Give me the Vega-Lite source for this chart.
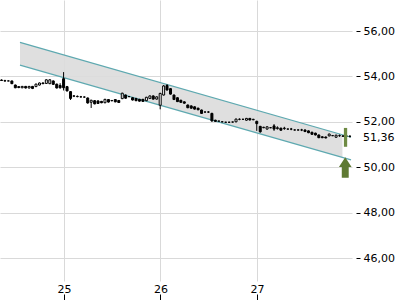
{
  "$schema": "https://vega.github.io/schema/vega-lite/v6.json",
  "width": 352,
  "height": 281,
  "autosize": {"type": "none"},
  "padding": {"left": 0, "top": 0, "right": 48, "bottom": 19},
  "background": "white",
  "config": {
    "view": {"stroke": null},
    "axis": {"labelFont": "DejaVu Sans", "labelFontSize": 11, "labelColor": "#000", "tickColor": "#000", "tickWidth": 1, "gridColor": "#d9d9d9", "gridWidth": 1, "domain": false}
  },
  "datasets": {
    "band": [
      {"t": 24.544, "lo": 54.50, "hi": 55.50},
      {"t": 27.886, "lo": 50.43, "hi": 51.43}
    ],
    "edges": [
      {"t1": 24.544, "p1": 55.50, "t2": 27.975, "p2": 51.32},
      {"t1": 24.544, "p1": 54.50, "t2": 27.975, "p2": 50.32}
    ],
    "candles": [
      {"t": 24.353, "o": 53.84, "h": 53.87, "l": 53.80, "c": 53.82},
      {"t": 24.388, "o": 53.81, "h": 53.85, "l": 53.77, "c": 53.80},
      {"t": 24.424, "o": 53.80, "h": 53.82, "l": 53.79, "c": 53.80},
      {"t": 24.460, "o": 53.80, "h": 53.81, "l": 53.66, "c": 53.68},
      {"t": 24.496, "o": 53.62, "h": 53.64, "l": 53.48, "c": 53.50},
      {"t": 24.531, "o": 53.55, "h": 53.57, "l": 53.48, "c": 53.51},
      {"t": 24.567, "o": 53.50, "h": 53.58, "l": 53.48, "c": 53.56},
      {"t": 24.603, "o": 53.56, "h": 53.58, "l": 53.47, "c": 53.49},
      {"t": 24.639, "o": 53.49, "h": 53.58, "l": 53.47, "c": 53.56},
      {"t": 24.674, "o": 53.56, "h": 53.58, "l": 53.44, "c": 53.47},
      {"t": 24.710, "o": 53.55, "h": 53.68, "l": 53.53, "c": 53.66},
      {"t": 24.746, "o": 53.62, "h": 53.73, "l": 53.60, "c": 53.71},
      {"t": 24.782, "o": 53.71, "h": 53.74, "l": 53.66, "c": 53.68},
      {"t": 24.817, "o": 53.69, "h": 53.87, "l": 53.67, "c": 53.85},
      {"t": 24.853, "o": 53.68, "h": 53.87, "l": 53.66, "c": 53.85},
      {"t": 24.889, "o": 53.80, "h": 53.82, "l": 53.63, "c": 53.65},
      {"t": 24.925, "o": 53.66, "h": 53.68, "l": 53.47, "c": 53.49},
      {"t": 24.960, "o": 53.60, "h": 53.70, "l": 53.46, "c": 53.50},
      {"t": 24.996, "o": 53.90, "h": 54.19, "l": 53.38, "c": 53.50},
      {"t": 25.032, "o": 53.55, "h": 53.58, "l": 53.34, "c": 53.36},
      {"t": 25.068, "o": 53.33, "h": 53.35, "l": 52.96, "c": 53.03},
      {"t": 25.103, "o": 53.13, "h": 53.18, "l": 53.09, "c": 53.14},
      {"t": 25.139, "o": 53.12, "h": 53.16, "l": 53.08, "c": 53.11},
      {"t": 25.175, "o": 53.10, "h": 53.14, "l": 53.06, "c": 53.10},
      {"t": 25.211, "o": 53.09, "h": 53.12, "l": 53.06, "c": 53.09},
      {"t": 25.246, "o": 53.05, "h": 53.07, "l": 52.80, "c": 52.83},
      {"t": 25.282, "o": 52.86, "h": 52.97, "l": 52.61, "c": 52.95},
      {"t": 25.318, "o": 52.93, "h": 52.96, "l": 52.77, "c": 52.79},
      {"t": 25.353, "o": 52.92, "h": 52.94, "l": 52.79, "c": 52.81},
      {"t": 25.389, "o": 52.90, "h": 52.92, "l": 52.82, "c": 52.84},
      {"t": 25.425, "o": 52.84, "h": 53.01, "l": 52.82, "c": 52.99},
      {"t": 25.461, "o": 52.98, "h": 53.00, "l": 52.85, "c": 52.87},
      {"t": 25.496, "o": 52.93, "h": 52.96, "l": 52.90, "c": 52.94},
      {"t": 25.532, "o": 52.98, "h": 53.00, "l": 52.86, "c": 52.88},
      {"t": 25.568, "o": 52.94, "h": 52.96, "l": 52.83, "c": 52.85},
      {"t": 25.604, "o": 53.02, "h": 53.28, "l": 53.00, "c": 53.26},
      {"t": 25.639, "o": 53.18, "h": 53.20, "l": 53.02, "c": 53.04},
      {"t": 25.675, "o": 53.11, "h": 53.13, "l": 53.09, "c": 53.11},
      {"t": 25.711, "o": 53.06, "h": 53.08, "l": 52.94, "c": 52.96},
      {"t": 25.747, "o": 53.03, "h": 53.05, "l": 52.91, "c": 52.93},
      {"t": 25.782, "o": 52.99, "h": 53.01, "l": 52.89, "c": 52.91},
      {"t": 25.818, "o": 52.99, "h": 53.01, "l": 52.88, "c": 52.90},
      {"t": 25.854, "o": 52.93, "h": 53.10, "l": 52.91, "c": 53.08},
      {"t": 25.890, "o": 53.03, "h": 53.16, "l": 53.01, "c": 53.14},
      {"t": 25.925, "o": 53.14, "h": 53.16, "l": 52.98, "c": 53.00},
      {"t": 25.961, "o": 53.00, "h": 53.12, "l": 52.98, "c": 53.10},
      {"t": 25.997, "o": 52.73, "h": 53.28, "l": 52.55, "c": 53.25},
      {"t": 26.033, "o": 53.18, "h": 53.62, "l": 53.16, "c": 53.58},
      {"t": 26.068, "o": 53.60, "h": 53.66, "l": 53.38, "c": 53.40},
      {"t": 26.104, "o": 53.46, "h": 53.48, "l": 53.20, "c": 53.22},
      {"t": 26.140, "o": 53.18, "h": 53.20, "l": 52.96, "c": 52.98},
      {"t": 26.176, "o": 53.06, "h": 53.08, "l": 52.87, "c": 52.89},
      {"t": 26.211, "o": 52.95, "h": 52.97, "l": 52.84, "c": 52.86},
      {"t": 26.247, "o": 52.88, "h": 52.90, "l": 52.80, "c": 52.82},
      {"t": 26.283, "o": 52.74, "h": 52.76, "l": 52.60, "c": 52.62},
      {"t": 26.319, "o": 52.70, "h": 52.72, "l": 52.58, "c": 52.60},
      {"t": 26.354, "o": 52.66, "h": 52.68, "l": 52.54, "c": 52.56},
      {"t": 26.390, "o": 52.60, "h": 52.62, "l": 52.51, "c": 52.53},
      {"t": 26.426, "o": 52.52, "h": 52.54, "l": 52.35, "c": 52.37},
      {"t": 26.462, "o": 52.43, "h": 52.45, "l": 52.41, "c": 52.43},
      {"t": 26.497, "o": 52.43, "h": 52.47, "l": 52.39, "c": 52.43},
      {"t": 26.533, "o": 52.37, "h": 52.40, "l": 52.00, "c": 52.04},
      {"t": 26.569, "o": 52.07, "h": 52.09, "l": 52.00, "c": 52.02},
      {"t": 26.605, "o": 52.03, "h": 52.05, "l": 52.01, "c": 52.03},
      {"t": 26.640, "o": 52.00, "h": 52.02, "l": 51.98, "c": 52.00},
      {"t": 26.676, "o": 51.98, "h": 52.00, "l": 51.96, "c": 51.98},
      {"t": 26.712, "o": 51.98, "h": 52.00, "l": 51.96, "c": 51.98},
      {"t": 26.748, "o": 51.99, "h": 52.01, "l": 51.97, "c": 51.99},
      {"t": 26.783, "o": 52.00, "h": 52.14, "l": 51.98, "c": 52.12},
      {"t": 26.819, "o": 52.11, "h": 52.15, "l": 52.07, "c": 52.11},
      {"t": 26.855, "o": 52.11, "h": 52.13, "l": 52.09, "c": 52.11},
      {"t": 26.891, "o": 52.07, "h": 52.17, "l": 52.05, "c": 52.15},
      {"t": 26.926, "o": 52.15, "h": 52.17, "l": 52.06, "c": 52.08},
      {"t": 26.962, "o": 52.09, "h": 52.13, "l": 52.07, "c": 52.11},
      {"t": 26.998, "o": 52.02, "h": 52.05, "l": 51.60, "c": 51.92},
      {"t": 27.034, "o": 51.80, "h": 51.82, "l": 51.52, "c": 51.56},
      {"t": 27.069, "o": 51.74, "h": 51.78, "l": 51.72, "c": 51.76},
      {"t": 27.105, "o": 51.68, "h": 51.80, "l": 51.66, "c": 51.78},
      {"t": 27.141, "o": 51.74, "h": 51.76, "l": 51.72, "c": 51.74},
      {"t": 27.177, "o": 51.82, "h": 51.90, "l": 51.60, "c": 51.68},
      {"t": 27.212, "o": 51.70, "h": 51.80, "l": 51.66, "c": 51.74},
      {"t": 27.248, "o": 51.72, "h": 51.74, "l": 51.61, "c": 51.63},
      {"t": 27.284, "o": 51.70, "h": 51.78, "l": 51.65, "c": 51.72},
      {"t": 27.320, "o": 51.68, "h": 51.70, "l": 51.66, "c": 51.68},
      {"t": 27.355, "o": 51.68, "h": 51.73, "l": 51.63, "c": 51.68},
      {"t": 27.391, "o": 51.64, "h": 51.66, "l": 51.62, "c": 51.64},
      {"t": 27.427, "o": 51.64, "h": 51.66, "l": 51.62, "c": 51.64},
      {"t": 27.463, "o": 51.64, "h": 51.69, "l": 51.59, "c": 51.64},
      {"t": 27.498, "o": 51.64, "h": 51.66, "l": 51.55, "c": 51.57},
      {"t": 27.534, "o": 51.60, "h": 51.62, "l": 51.50, "c": 51.52},
      {"t": 27.570, "o": 51.54, "h": 51.56, "l": 51.43, "c": 51.45},
      {"t": 27.606, "o": 51.50, "h": 51.52, "l": 51.40, "c": 51.42},
      {"t": 27.641, "o": 51.42, "h": 51.44, "l": 51.28, "c": 51.30},
      {"t": 27.677, "o": 51.34, "h": 51.36, "l": 51.28, "c": 51.30},
      {"t": 27.713, "o": 51.33, "h": 51.35, "l": 51.27, "c": 51.29},
      {"t": 27.749, "o": 51.38, "h": 51.48, "l": 51.36, "c": 51.46},
      {"t": 27.784, "o": 51.39, "h": 51.41, "l": 51.37, "c": 51.39},
      {"t": 27.820, "o": 51.32, "h": 51.43, "l": 51.30, "c": 51.41},
      {"t": 27.856, "o": 51.39, "h": 51.44, "l": 51.34, "c": 51.39},
      {"t": 27.892, "o": 51.36, "h": 51.41, "l": 51.33, "c": 51.38},
      {"t": 27.927, "o": 51.37, "h": 51.42, "l": 51.32, "c": 51.37},
      {"t": 27.963, "o": 51.36, "h": 51.41, "l": 51.31, "c": 51.36}
    ],
    "range": [{"t1": 27.901, "t2": 27.935, "p1": 50.90, "p2": 51.73}],
    "arrow": [{"t": 27.915, "p": 49.99}],
    "last": [{"t": 28.098, "p": 51.36, "label": "51,36"}]
  },
  "layer": [
    {
      "data": {"name": "band"},
      "mark": {"type": "area", "color": "#dcdcdc", "opacity": 0.9},
      "encoding": {
        "x": {"field": "t", "type": "quantitative", "scale": {"domain": [24.337, 27.985], "nice": false, "zero": false, "padding": 0}, "axis": {"values": [25, 26, 27], "format": "d", "orient": "bottom", "offset": 13, "tickSize": 6, "labelPadding": -17, "grid": true, "title": null, "domain": false}},
        "y": {"field": "lo", "type": "quantitative", "scale": {"domain": [44.987, 57.366], "nice": false, "zero": false, "padding": 0}, "axis": {"values": [46, 48, 50, 52, 54, 56], "labelExpr": "replace(format(datum.value, '.2f'), '.', ',')", "orient": "right", "offset": 4, "tickSize": 4, "labelPadding": 3, "grid": true, "title": null, "domain": false}},
        "y2": {"field": "hi"}
      }
    },
    {
      "data": {"name": "edges"},
      "mark": {"type": "rule", "color": "#5ea9b0", "strokeWidth": 1.2},
      "encoding": {
        "x": {"field": "t1", "type": "quantitative", "scale": {"domain": [24.337, 27.985], "nice": false, "zero": false, "padding": 0}, "axis": {"values": [25, 26, 27], "format": "d", "orient": "bottom", "offset": 13, "tickSize": 6, "labelPadding": -17, "grid": true, "title": null, "domain": false}},
        "x2": {"field": "t2"},
        "y": {"field": "p1", "type": "quantitative", "scale": {"domain": [44.987, 57.366], "nice": false, "zero": false, "padding": 0}, "axis": {"values": [46, 48, 50, 52, 54, 56], "labelExpr": "replace(format(datum.value, '.2f'), '.', ',')", "orient": "right", "offset": 4, "tickSize": 4, "labelPadding": 3, "grid": true, "title": null, "domain": false}},
        "y2": {"field": "p2"}
      }
    },
    {
      "data": {"name": "candles"},
      "mark": {"type": "rule", "color": "#000", "strokeWidth": 1},
      "encoding": {
        "x": {"field": "t", "type": "quantitative", "scale": {"domain": [24.337, 27.985], "nice": false, "zero": false, "padding": 0}, "axis": {"values": [25, 26, 27], "format": "d", "orient": "bottom", "offset": 13, "tickSize": 6, "labelPadding": -17, "grid": true, "title": null, "domain": false}},
        "y": {"field": "l", "type": "quantitative", "scale": {"domain": [44.987, 57.366], "nice": false, "zero": false, "padding": 0}, "axis": {"values": [46, 48, 50, 52, 54, 56], "labelExpr": "replace(format(datum.value, '.2f'), '.', ',')", "orient": "right", "offset": 4, "tickSize": 4, "labelPadding": 3, "grid": true, "title": null, "domain": false}},
        "y2": {"field": "h"}
      }
    },
    {
      "data": {"name": "candles"},
      "mark": {"type": "bar", "width": 2, "stroke": "#000", "strokeWidth": 1},
      "encoding": {
        "x": {"field": "t", "type": "quantitative", "scale": {"domain": [24.337, 27.985], "nice": false, "zero": false, "padding": 0}, "axis": {"values": [25, 26, 27], "format": "d", "orient": "bottom", "offset": 13, "tickSize": 6, "labelPadding": -17, "grid": true, "title": null, "domain": false}},
        "y": {"field": "o", "type": "quantitative", "scale": {"domain": [44.987, 57.366], "nice": false, "zero": false, "padding": 0}, "axis": {"values": [46, 48, 50, 52, 54, 56], "labelExpr": "replace(format(datum.value, '.2f'), '.', ',')", "orient": "right", "offset": 4, "tickSize": 4, "labelPadding": 3, "grid": true, "title": null, "domain": false}},
        "y2": {"field": "c"},
        "fill": {"condition": {"test": "datum.c > datum.o", "value": "#ffffff"}, "value": "#000000"}
      }
    },
    {
      "data": {"name": "range"},
      "mark": {"type": "bar", "color": "#6e8a43"},
      "encoding": {
        "x": {"field": "t1", "type": "quantitative", "scale": {"domain": [24.337, 27.985], "nice": false, "zero": false, "padding": 0}, "axis": {"values": [25, 26, 27], "format": "d", "orient": "bottom", "offset": 13, "tickSize": 6, "labelPadding": -17, "grid": true, "title": null, "domain": false}},
        "x2": {"field": "t2"},
        "y": {"field": "p1", "type": "quantitative", "scale": {"domain": [44.987, 57.366], "nice": false, "zero": false, "padding": 0}, "axis": {"values": [46, 48, 50, 52, 54, 56], "labelExpr": "replace(format(datum.value, '.2f'), '.', ',')", "orient": "right", "offset": 4, "tickSize": 4, "labelPadding": 3, "grid": true, "title": null, "domain": false}},
        "y2": {"field": "p2"}
      }
    },
    {
      "data": {"name": "arrow"},
      "mark": {"type": "point", "filled": true, "opacity": 1, "color": "#5f7a33", "size": 416, "shape": "M0,-1L0.62,-0.05L0.34,-0.05L0.34,1L-0.34,1L-0.34,-0.05L-0.62,-0.05Z"},
      "encoding": {
        "x": {"field": "t", "type": "quantitative", "scale": {"domain": [24.337, 27.985], "nice": false, "zero": false, "padding": 0}, "axis": {"values": [25, 26, 27], "format": "d", "orient": "bottom", "offset": 13, "tickSize": 6, "labelPadding": -17, "grid": true, "title": null, "domain": false}},
        "y": {"field": "p", "type": "quantitative", "scale": {"domain": [44.987, 57.366], "nice": false, "zero": false, "padding": 0}, "axis": {"values": [46, 48, 50, 52, 54, 56], "labelExpr": "replace(format(datum.value, '.2f'), '.', ',')", "orient": "right", "offset": 4, "tickSize": 4, "labelPadding": 3, "grid": true, "title": null, "domain": false}}
      }
    },
    {
      "data": {"name": "last"},
      "mark": {"type": "text", "align": "left", "baseline": "middle", "font": "DejaVu Sans", "fontSize": 11, "color": "#000", "dy": 2},
      "encoding": {
        "x": {"field": "t", "type": "quantitative", "scale": {"domain": [24.337, 27.985], "nice": false, "zero": false, "padding": 0}, "axis": {"values": [25, 26, 27], "format": "d", "orient": "bottom", "offset": 13, "tickSize": 6, "labelPadding": -17, "grid": true, "title": null, "domain": false}},
        "y": {"field": "p", "type": "quantitative", "scale": {"domain": [44.987, 57.366], "nice": false, "zero": false, "padding": 0}, "axis": {"values": [46, 48, 50, 52, 54, 56], "labelExpr": "replace(format(datum.value, '.2f'), '.', ',')", "orient": "right", "offset": 4, "tickSize": 4, "labelPadding": 3, "grid": true, "title": null, "domain": false}},
        "text": {"field": "label"}
      }
    }
  ]
}
